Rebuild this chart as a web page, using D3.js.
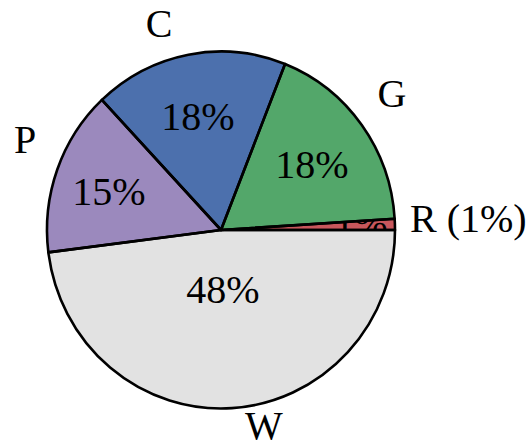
<!DOCTYPE html>
<html>
<head>
<meta charset="utf-8">
<script src="https://cdn.jsdelivr.net/npm/d3@7"></script>
<style>
  html, body { margin: 0; padding: 0; background: #fff; }
  svg { display: block; }
  text { font-family: "Liberation Serif", "Times New Roman", serif; fill: #000; }
</style>
</head>
<body>
<svg id="chart" width="531" height="448"></svg>
<script>
// Share of each category, in drawing order (clockwise from 3 o'clock)
const categories = ["W", "P", "C", "G", "R"];
const values = [48, 15, 18, 18, 1];
const colors = ["#e2e2e2", "#9b89bd", "#4c70ad", "#53a76a", "#c8575c"];

// Layout: pie centre / radii and where each text sits
const cx = 221, cy = 230, rx = 174, ry = 178.5;
const pctPos = { W: [223, 303], P: [109, 205], C: [198, 130], G: [312, 178], R: [361, 237] };
const namePos = { W: [264, 439, "middle"], P: [25, 153, "middle"], C: [159, 37, "middle"],
                  G: [392, 107, "middle"], R: [410, 232, "start"] };

const svg = d3.select("#chart");
const pie = d3.pie().sort(null).value(d => d.value)
  .startAngle(Math.PI / 2).endAngle(Math.PI / 2 + 2 * Math.PI);
const data = categories.map((c, i) => ({ name: c, value: values[i], color: colors[i] }));
const arcs = pie(data);
const arc = d3.arc().innerRadius(0).outerRadius(rx);

const g = svg.append("g")
  .attr("transform", `translate(${cx},${cy}) scale(1,${ry / rx})`);

const defs = svg.append("defs");
arcs.forEach((a, i) => {
  defs.append("clipPath").attr("id", "clip" + i)
    .append("path")
    .attr("transform", `translate(${cx},${cy}) scale(1,${ry / rx})`)
    .attr("d", arc(a));
});

g.selectAll("path.slice").data(arcs).enter().append("path")
  .attr("class", "slice")
  .attr("d", arc)
  .attr("fill", d => d.data.color)
  .attr("stroke", "none");

// Percentage labels, each clipped to its own slice
const total = d3.sum(values);
svg.selectAll("text.pct").data(arcs).enter().append("text")
  .attr("class", "pct")
  .attr("clip-path", (d, i) => `url(#clip${i})`)
  .attr("x", d => pctPos[d.data.name][0])
  .attr("y", d => pctPos[d.data.name][1])
  .attr("text-anchor", "middle")
  .attr("font-size", 40)
  .text(d => Math.round(d.data.value / total * 100) + "%");

// Outlines drawn on top
g.selectAll("path.edge").data(arcs).enter().append("path")
  .attr("class", "edge")
  .attr("d", arc)
  .attr("fill", "none")
  .attr("stroke", "#000")
  .attr("stroke-width", 2.6)
  .attr("stroke-linejoin", "round")
  .attr("vector-effect", "non-scaling-stroke");

// Category names around the pie
svg.selectAll("text.name").data(arcs).enter().append("text")
  .attr("class", "name")
  .attr("x", d => namePos[d.data.name][0])
  .attr("y", d => namePos[d.data.name][1])
  .attr("text-anchor", d => namePos[d.data.name][2])
  .attr("font-size", 40)
  .text(d => d.data.name === "R"
    ? `R (${Math.round(d.data.value / total * 100)}%)`
    : d.data.name);
</script>
</body>
</html>
